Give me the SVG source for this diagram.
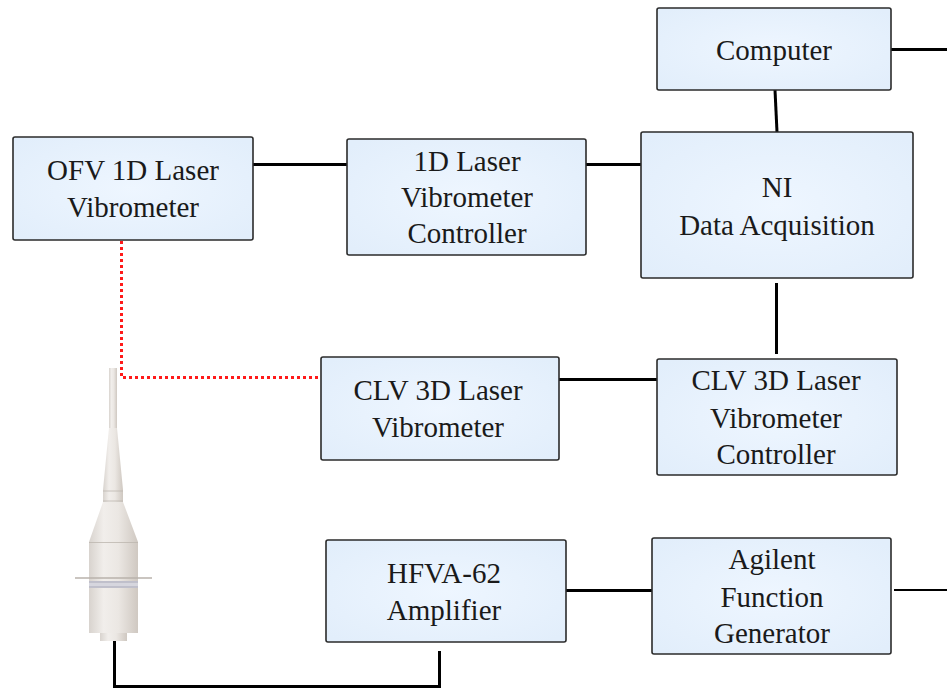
<svg xmlns="http://www.w3.org/2000/svg" width="947" height="688" viewBox="0 0 947 688">
  <defs>
    <radialGradient id="boxFill" cx="50%" cy="50%" r="65%">
      <stop offset="0" stop-color="#eef6ff"/>
      <stop offset="1" stop-color="#e2eefb"/>
    </radialGradient>
    <linearGradient id="horn" x1="0" y1="0" x2="1" y2="0">
      <stop offset="0" stop-color="#d8d3ce"/>
      <stop offset="0.3" stop-color="#f1eeeb"/>
      <stop offset="0.6" stop-color="#ebe7e3"/>
      <stop offset="1" stop-color="#cfc8c1"/>
    </linearGradient>
    <style>
      .box { fill: url(#boxFill); stroke: #2b2b2b; stroke-width: 1.6; }
      .lbl { font-family: "Liberation Serif", "Times New Roman", serif; font-size: 29px; fill: #1a1a1a; text-anchor: middle; }
      .wire { stroke: #000; stroke-width: 3; fill: none; }
      .thin { stroke: #000; stroke-width: 2; fill: none; }
      .beam { stroke: #ff1a1a; stroke-width: 3; stroke-dasharray: 3 3; fill: none; }
      .hornEdge { stroke: #bdb6ae; stroke-width: 0.8; }
    </style>
  </defs>

  <rect width="947" height="688" fill="#ffffff"/>

  <!-- connectors -->
  <g id="connectors">
    <line class="wire" x1="253" y1="164.5" x2="347" y2="164.5"/>
    <line class="wire" x1="586" y1="164.5" x2="641" y2="164.5"/>
    <line class="wire" x1="775" y1="90" x2="777" y2="132"/>
    <line class="wire" x1="891" y1="49.5" x2="947" y2="49.5"/>
    <line class="wire" x1="776.5" y1="283" x2="776.5" y2="354"/>
    <line class="wire" x1="559" y1="379.5" x2="657" y2="379.5"/>
    <line class="wire" x1="566" y1="590.5" x2="652" y2="590.5"/>
    <line class="thin" x1="894" y1="590" x2="947" y2="590"/>
    <polyline class="wire" points="114.5,641 114.5,686.5 439.5,686.5 439.5,651"/>
    <polyline class="beam" points="121.5,241 121.5,377.5 321,377.5"/>
  </g>

  <!-- ultrasonic horn / transducer -->
  <g id="transducer">
    <rect x="109" y="368" width="8" height="60" fill="url(#horn)"/>
    <path d="M109,428 L117,428 L123,490 L103,490 Z" fill="url(#horn)"/>
    <rect x="103" y="490" width="20" height="12" fill="url(#horn)"/>
    <line class="hornEdge" x1="103" y1="491" x2="123" y2="491"/>
    <line class="hornEdge" x1="103" y1="501" x2="123" y2="501"/>
    <path d="M103,502 L123,502 L138,542 L89,542 Z" fill="url(#horn)"/>
    <rect x="89" y="542" width="49" height="91" fill="url(#horn)"/>
    <line class="hornEdge" x1="89" y1="542.5" x2="138" y2="542.5"/>
    <line x1="75" y1="578" x2="152" y2="578" stroke="#b8b2ab" stroke-width="1.5"/>
    <rect x="89" y="581" width="49" height="7" fill="#d6d6de"/>
    <line x1="89" y1="582" x2="138" y2="582" stroke="#a9a9b8" stroke-width="1"/>
    <line x1="89" y1="587" x2="138" y2="587" stroke="#a9a9b8" stroke-width="1"/>
    <rect x="100" y="633" width="27" height="8" fill="url(#horn)"/>
  </g>

  <g id="computer">
    <rect class="box" x="657" y="8" width="234" height="82" rx="2"/>
    <text class="lbl" x="774" y="60">Computer</text>
  </g>

  <g id="ni-daq">
    <rect class="box" x="641" y="132" width="272" height="146" rx="2"/>
    <text class="lbl" x="777" y="197">NI</text>
    <text class="lbl" x="777" y="235">Data Acquisition</text>
  </g>

  <g id="ofv-vibrometer">
    <rect class="box" x="13" y="137" width="240" height="103" rx="2"/>
    <text class="lbl" x="133" y="180">OFV 1D Laser</text>
    <text class="lbl" x="133" y="217">Vibrometer</text>
  </g>

  <g id="vibrometer-1d-controller">
    <rect class="box" x="347" y="139" width="239" height="116" rx="2"/>
    <text class="lbl" x="467" y="171">1D Laser</text>
    <text class="lbl" x="467" y="207">Vibrometer</text>
    <text class="lbl" x="467" y="243">Controller</text>
  </g>

  <g id="clv-vibrometer">
    <rect class="box" x="321" y="357" width="238" height="103" rx="2"/>
    <text class="lbl" x="438" y="400">CLV 3D Laser</text>
    <text class="lbl" x="438" y="437">Vibrometer</text>
  </g>

  <g id="clv-controller">
    <rect class="box" x="657" y="359" width="240" height="116" rx="2"/>
    <text class="lbl" x="776" y="390">CLV 3D Laser</text>
    <text class="lbl" x="776" y="428">Vibrometer</text>
    <text class="lbl" x="776" y="464">Controller</text>
  </g>

  <g id="amplifier">
    <rect class="box" x="326" y="540" width="240" height="102" rx="2"/>
    <text class="lbl" x="444" y="583">HFVA-62</text>
    <text class="lbl" x="444" y="620">Amplifier</text>
  </g>

  <g id="function-generator">
    <rect class="box" x="652" y="538" width="239" height="116" rx="2"/>
    <text class="lbl" x="772" y="569">Agilent</text>
    <text class="lbl" x="772" y="607">Function</text>
    <text class="lbl" x="772" y="643">Generator</text>
  </g>
</svg>
